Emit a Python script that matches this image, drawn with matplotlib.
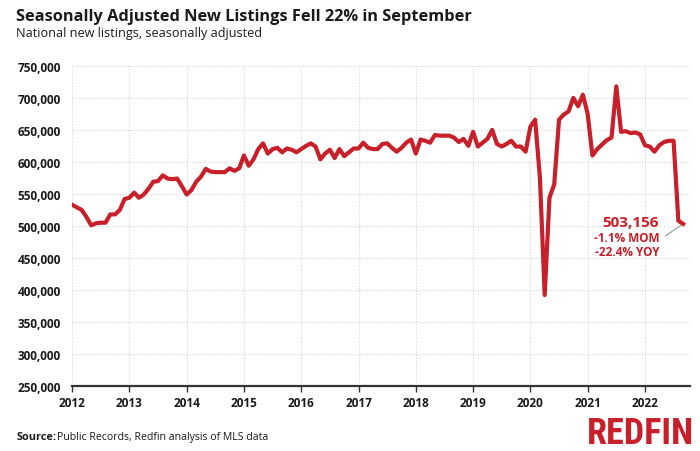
import matplotlib
matplotlib.use("Agg")
import matplotlib.pyplot as plt
from matplotlib import font_manager
import numpy as np

plt.rcParams['font.family'] = ['Open Sans', 'DejaVu Sans']

# Monthly seasonally adjusted new listings (thousands), Jan 2012 - Sep 2022
v2012 = [533, 529, 525, 514, 501, 504, 505, 505, 518, 518, 525, 542]
v2013 = [544, 552, 544, 549, 558, 569, 570, 579, 574, 573, 574, 562]
v2014 = [549, 556, 569, 577, 589, 585, 584, 584, 584, 590, 586, 590]
v2015 = [610, 594, 604, 620, 629, 613, 620, 622, 615, 621, 619, 615]
v2016 = [620, 625, 629, 624, 604, 613, 619, 606, 620, 609, 615, 621]
v2017 = [621, 630, 622, 620, 620, 628, 629, 622, 616, 622, 630, 635]
v2018 = [613, 635, 633, 630, 642, 641, 641, 641, 638, 631, 636, 625]
v2019 = [647, 624, 630, 636, 650, 628, 624, 628, 633, 624, 624, 616]
v2020 = [655, 666, 575, 392, 544, 565, 666, 674, 679, 700, 687, 705]
v2021 = [675, 610, 620, 627, 634, 638, 718, 647, 648, 645, 646, 643]
v2022 = [626, 624, 616, 626, 631, 633, 633, 508, 503.156]

values = np.array(v2012 + v2013 + v2014 + v2015 + v2016 + v2017 + v2018
                  + v2019 + v2020 + v2021 + v2022) * 1000
start_year = 2012
x = start_year + np.arange(len(values)) / 12.0

year_ticks = list(range(2012, 2023))
y_ticks = [250000, 300000, 350000, 400000, 450000, 500000, 550000, 600000, 650000, 700000, 750000]

RED = '#C8202A'
DARK = '#1a1a1a'

# pick a condensed font for the logo if one is installed
names = {f.name for f in font_manager.fontManager.ttflist}
logo_family = 'DejaVu Sans'
for cand in ['Liberation Sans Narrow', 'DejaVu Sans Condensed', 'Roboto Condensed',
             'Open Sans Condensed', 'Noto Sans Condensed']:
    if cand in names:
        logo_family = cand
        break
condensed = logo_family != 'DejaVu Sans'

fig = plt.figure(figsize=(7, 4.52), dpi=100)
ax = fig.add_axes([0.103, 0.144, 0.883, 0.708])

ax.plot(x, values, color=RED, lw=3.0, solid_joinstyle='round', zorder=3)

ax.set_xlim(2012, 2022.79)
ax.set_ylim(250000, 750000)
ax.set_xticks(year_ticks)
ax.set_xticklabels([str(y) for y in year_ticks], fontsize=8.5, fontweight='bold', color=DARK)
ax.set_yticks(y_ticks)
ax.set_yticklabels([f"{t:,}" for t in y_ticks], fontsize=8.5, fontweight='bold', color=DARK)
ax.grid(True, color='#d5d5d5', lw=0.8, ls=(0, (1, 1.5)), zorder=0)
for s in ['top', 'right', 'left']:
    ax.spines[s].set_visible(False)
ax.spines['bottom'].set_color('#333333')
ax.spines['bottom'].set_linewidth(1.6)
ax.tick_params(axis='y', length=0, pad=8)
ax.tick_params(axis='x', length=4, width=1, color='#333333', pad=3)

# annotation
last_x, last_y = x[-1], values[-1]
ax.annotate('', xy=(last_x, last_y), xytext=(2022.32, 482000),
            arrowprops=dict(arrowstyle='-', color='#999999', lw=0.8))
ax.text(2022.25, 506000, '503,156', color=RED, fontsize=11, fontweight='bold',
        ha='right', va='center')
ax.text(2022.25, 482000, '-1.1% MOM', color=RED, fontsize=8.5, fontweight='bold',
        ha='right', va='center')
ax.text(2022.25, 460000, '-22.4% YOY', color=RED, fontsize=8.5, fontweight='bold',
        ha='right', va='center')

fig.text(0.023, 0.962, 'Seasonally Adjusted New Listings Fell 22% in September',
         fontsize=11.8, fontweight='bold', color=DARK, va='center')
fig.text(0.023, 0.926, 'National new listings, seasonally adjusted',
         fontsize=9.1, color=DARK, va='center')

fig.text(0.023, 0.031, 'Source:', fontsize=7.8, fontweight='bold', color=DARK, va='center')
fig.text(0.081, 0.031, 'Public Records, Redfin analysis of MLS data', fontsize=7.6,
         color=DARK, va='center')
if condensed:
    fig.text(0.991, 0.040, 'REDFIN', fontsize=26, fontweight='bold', color=RED,
             ha='right', va='center', family=[logo_family, 'DejaVu Sans'])
else:
    fig.text(0.991, 0.040, 'REDFIN', fontsize=21, fontweight='bold', color=RED,
             ha='right', va='center', family=['Roboto', 'DejaVu Sans'])

fig.savefig('out.png', dpi=100, facecolor='white')
